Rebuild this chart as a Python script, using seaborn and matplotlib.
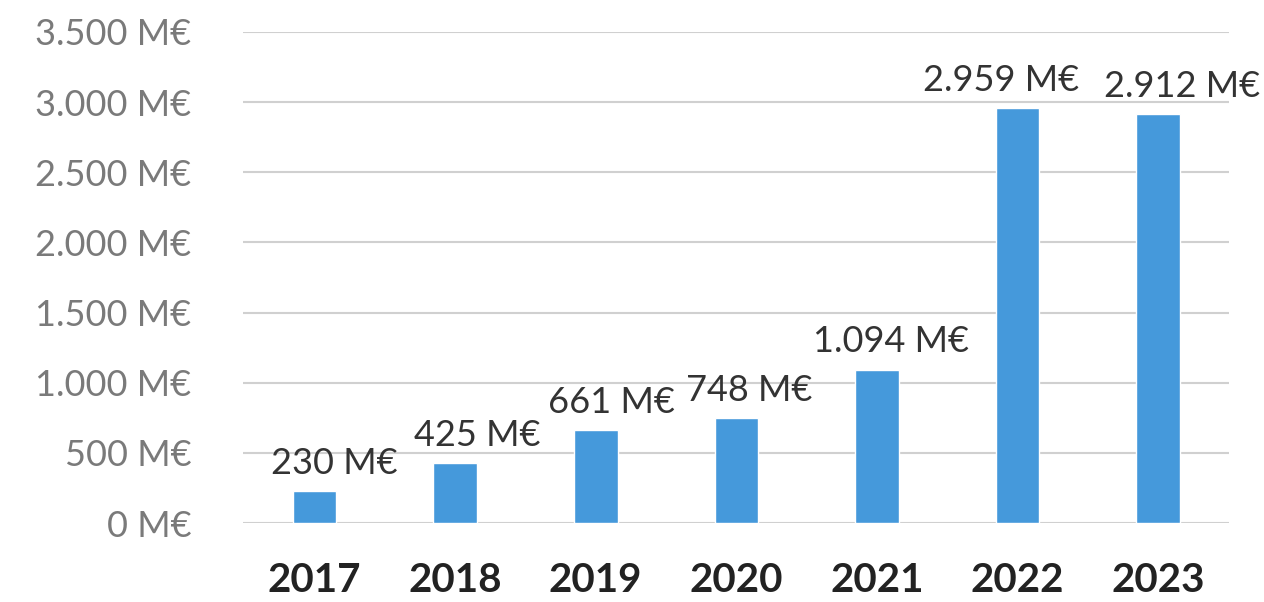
import matplotlib
matplotlib.use("Agg")
import matplotlib.pyplot as plt
import seaborn as sns
import pandas as pd

# data
years = ["2017", "2018", "2019", "2020", "2021", "2022", "2023"]
values = [230, 425, 661, 748, 1094, 2959, 2912]
value_labels = ["230 M€", "425 M€", "661 M€", "748 M€", "1.094 M€", "2.959 M€", "2.912 M€"]
y_ticks = [0, 500, 1000, 1500, 2000, 2500, 3000, 3500]
y_tick_labels = ["0 M€", "500 M€", "1.000 M€", "1.500 M€", "2.000 M€", "2.500 M€", "3.000 M€", "3.500 M€"]

sns.set_style("white")
plt.rcParams["font.family"] = ["Lato", "DejaVu Sans"]

df = pd.DataFrame({"year": years, "value": values})

fig = plt.figure(figsize=(12.64, 6.02), dpi=100)
ax = fig.add_axes([0.192, 0.131, 0.78, 0.816])

sns.barplot(data=df, x="year", y="value", color="#4599DB", width=0.31,
            saturation=1, ax=ax, zorder=3)

ax.set_ylim(0, 3500)
ax.set_xlim(-0.51, 6.5)
ax.set_yticks(y_ticks)
ax.set_yticklabels(y_tick_labels, fontsize=26, color="#7a7a7a")
ax.tick_params(axis="y", length=0, pad=37)
ax.tick_params(axis="x", length=0, pad=28)
for lbl in ax.get_xticklabels():
    lbl.set_fontsize(29)
    lbl.set_fontweight("bold")
    lbl.set_color("#222222")
ax.set_xlabel("")
ax.set_ylabel("")
ax.yaxis.grid(True, color="#d0d0d0", linewidth=1.5, zorder=0)
for s in ax.spines.values():
    s.set_visible(False)

# label shifts (points) to keep neighbouring labels apart
shifts = [14, 16, 11, 9, 10, -12, 17]
for i, (v, t) in enumerate(zip(values, value_labels)):
    ax.annotate(t, xy=(i, v), xytext=(shifts[i], 8), textcoords="offset points",
                ha="center", va="bottom", fontsize=26, color="#333333",
                annotation_clip=False)

fig.savefig("out.png", dpi=100)
